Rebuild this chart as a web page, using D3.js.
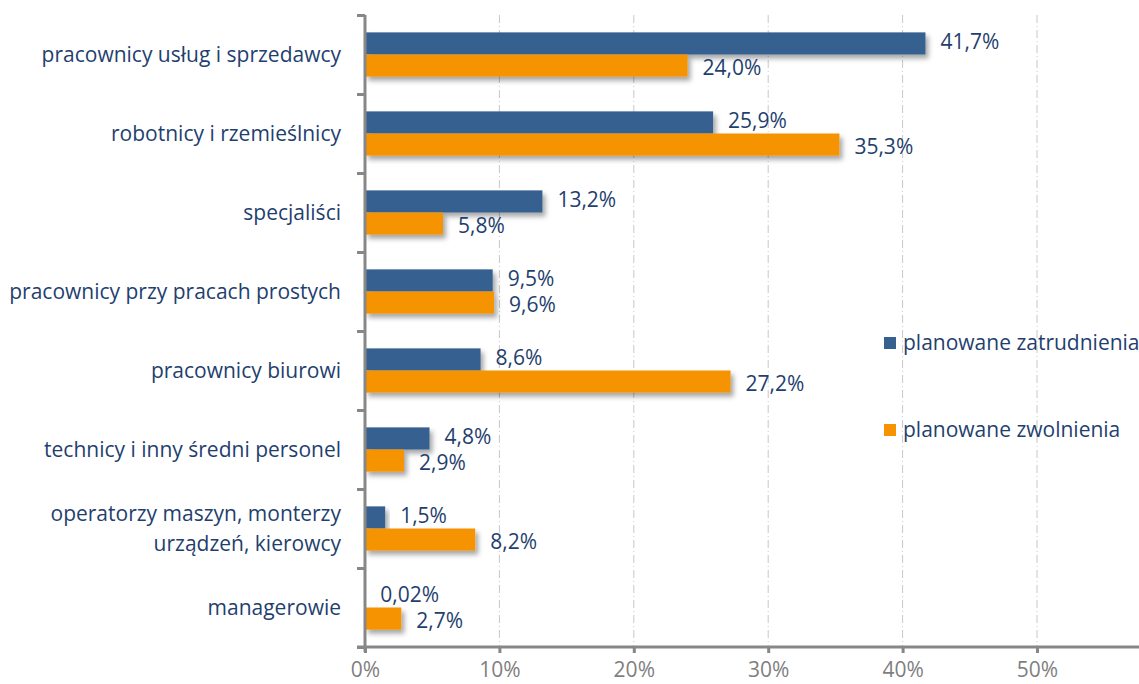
<!DOCTYPE html>
<html>
<head>
<meta charset="utf-8">
<script src="https://cdn.jsdelivr.net/npm/d3@7"></script>
<style>
  body { margin: 0; background: #fff; }
  text { font-family: "Open Sans", Lato, sans-serif; }
</style>
</head>
<body>
<script>
// categories, top to bottom
const categories = [
  ['pracownicy usług i sprzedawcy'],
  ['robotnicy i rzemieślnicy'],
  ['specjaliści'],
  ['pracownicy przy pracach prostych'],
  ['pracownicy biurowi'],
  ['technicy i inny średni personel'],
  ['operatorzy maszyn, monterzy', 'urządzeń, kierowcy'],
  ['managerowie']
];
const hires = [41.7, 25.9, 13.2, 9.5, 8.6, 4.8, 1.5, 0.02];
const hireLabels = ['41,7%', '25,9%', '13,2%', '9,5%', '8,6%', '4,8%', '1,5%', '0,02%'];
const layoffs = [24.0, 35.3, 5.8, 9.6, 27.2, 2.9, 8.2, 2.7];
const layoffLabels = ['24,0%', '35,3%', '5,8%', '9,6%', '27,2%', '2,9%', '8,2%', '2,7%'];
const seriesNames = ['planowane zatrudnienia', 'planowane zwolnienia'];
const xTicks = [0, 10, 20, 30, 40, 50];

let width = 1139;
let height = 684;
let plotLeft = 365, plotRight = 1037, plotTop = 15, plotBottom = 647;
let fontSize = 21;
let blue = '#36608f';
let orange = '#f59300';
let labelColor = '#1f3f6e';
let axisGray = '#878787';

let svg = d3.select('body').append('svg')
   .attr('width', width)
   .attr('height', height);

// drop shadow for the bars
let defs = svg.append('defs');
defs.append('filter')
   .attr('id', 'shadow')
   .attr('x', '-10%').attr('y', '-30%')
   .attr('width', '130%').attr('height', '180%')
   .append('feDropShadow')
   .attr('dx', 3).attr('dy', 4)
   .attr('stdDeviation', 2.5)
   .attr('flood-color', '#000')
   .attr('flood-opacity', 0.35);

let xScale = d3.scaleLinear().domain([0, 50]).range([plotLeft, plotRight]);
let yScale = d3.scaleBand()
   .domain(d3.range(categories.length))
   .range([plotTop, plotBottom])
   .paddingInner(0.44)
   .paddingOuter(0.22);
let barH = yScale.bandwidth() / 2;

// gridlines
svg.append('g')
   .selectAll('line')
   .data(xTicks.slice(1))
   .enter()
   .append('line')
   .attr('x1', d => xScale(d)).attr('x2', d => xScale(d))
   .attr('y1', plotTop).attr('y2', plotBottom)
   .attr('stroke', '#c8c8c8')
   .attr('stroke-width', 1)
   .attr('stroke-dasharray', '8,3,1,3');

// bars
let groups = svg.selectAll('.cat')
   .data(categories)
   .enter()
   .append('g')
   .attr('class', 'cat');

groups.append('rect')
   .attr('x', xScale(0))
   .attr('y', (d, i) => yScale(i))
   .attr('width', (d, i) => xScale(hires[i]) - xScale(0))
   .attr('height', barH)
   .attr('fill', blue)
   .attr('filter', 'url(#shadow)');

groups.append('rect')
   .attr('x', xScale(0))
   .attr('y', (d, i) => yScale(i) + barH)
   .attr('width', (d, i) => xScale(layoffs[i]) - xScale(0))
   .attr('height', barH)
   .attr('fill', orange)
   .attr('filter', 'url(#shadow)');

// value labels (nudged apart a little so the pairs don't collide)
groups.append('text')
   .attr('x', (d, i) => xScale(hires[i]) + 15)
   .attr('y', (d, i) => yScale(i) + barH / 2 - 2)
   .attr('dy', '0.35em')
   .attr('font-size', fontSize)
   .attr('fill', labelColor)
   .text((d, i) => hireLabels[i]);

groups.append('text')
   .attr('x', (d, i) => xScale(layoffs[i]) + 15)
   .attr('y', (d, i) => yScale(i) + barH * 1.5 + 2)
   .attr('dy', '0.35em')
   .attr('font-size', fontSize)
   .attr('fill', labelColor)
   .text((d, i) => layoffLabels[i]);

// category labels
groups.append('text')
   .attr('text-anchor', 'end')
   .attr('font-size', fontSize)
   .attr('fill', labelColor)
   .attr('transform', (d, i) => 'translate(341,' + (yScale(i) + barH) + ')')
   .selectAll('tspan')
   .data(d => d.map((t, j) => ({t: t, j: j, n: d.length})))
   .enter()
   .append('tspan')
   .attr('x', 0)
   .attr('y', d => (d.j - (d.n - 1) / 2) * 30)
   .attr('dy', '0.35em')
   .text(d => d.t);

// y axis with category separator ticks
let yAxisScale = d3.scaleLinear().domain([0, categories.length]).range([plotTop, plotBottom]);
let yAxis = d3.axisLeft(yAxisScale)
   .tickValues(d3.range(categories.length + 1))
   .tickSize(8)
   .tickFormat('');
svg.append('g')
   .attr('transform', 'translate(' + plotLeft + ',0)')
   .call(yAxis)
   .call(g => g.select('.domain').attr('d', 'M0,' + plotTop + 'V' + (plotBottom + 5)))
   .call(g => g.selectAll('path, line').attr('stroke', axisGray).attr('stroke-width', 3));

// x axis
let xAxis = d3.axisBottom(xScale)
   .tickValues(xTicks)
   .tickSize(6)
   .tickSizeOuter(0)
   .tickPadding(9)
   .tickFormat(d => d + '%');
svg.append('g')
   .attr('transform', 'translate(0,' + plotBottom + ')')
   .call(xAxis)
   .call(g => g.select('.domain').attr('d', 'M' + (plotLeft - 8) + ',0H' + 1139))
   .call(g => g.selectAll('path, line').attr('stroke', axisGray).attr('stroke-width', 3))
   .call(g => g.selectAll('text')
      .attr('font-size', fontSize)
      .attr('fill', '#7f7f7f')
      .style('font-family', '"Open Sans", sans-serif'));

// legend
let legend = svg.append('g')
   .selectAll('g')
   .data(seriesNames)
   .enter()
   .append('g')
   .attr('transform', (d, i) => 'translate(884,' + (343 + i * 87) + ')');
legend.append('rect')
   .attr('x', 0).attr('y', -6)
   .attr('width', 12).attr('height', 12)
   .attr('fill', (d, i) => i === 0 ? blue : orange);
legend.append('text')
   .attr('x', 19)
   .attr('dy', '0.35em')
   .attr('font-size', fontSize)
   .attr('fill', labelColor)
   .text(d => d);
</script>
</body>
</html>
